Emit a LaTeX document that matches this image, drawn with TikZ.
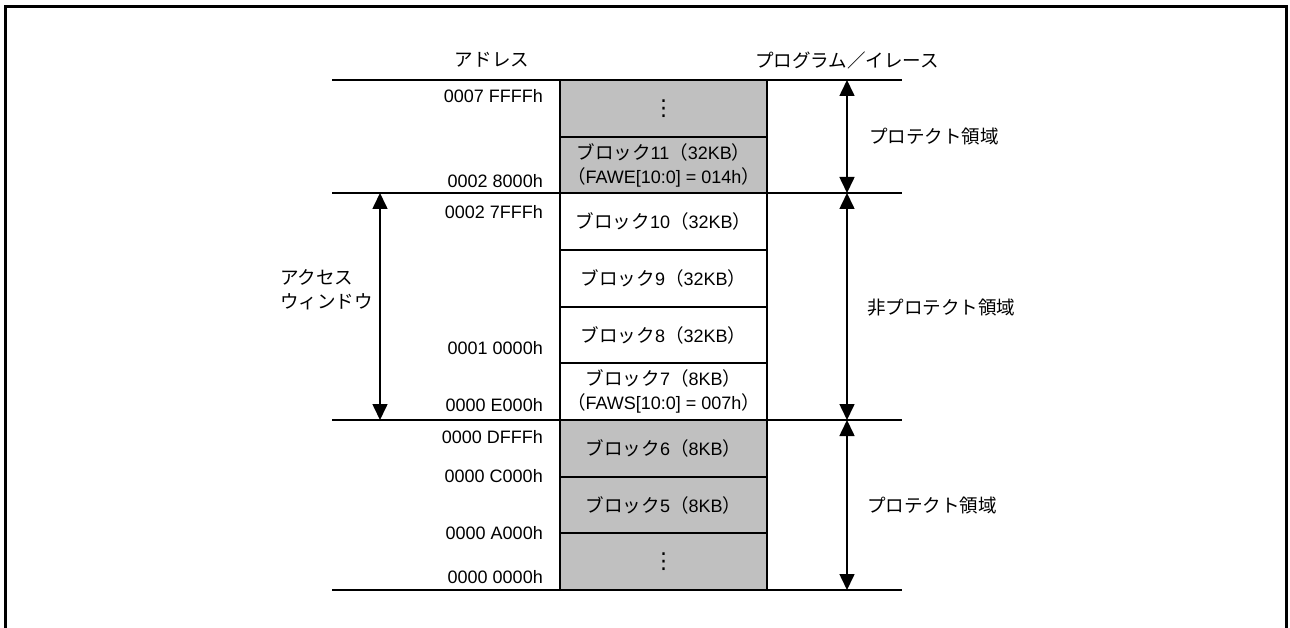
\documentclass[tikz,border=0pt]{standalone}
\usepackage{fontspec}
\setmainfont{Liberation Sans}
\newfontfamily\jp[Scale=1.03]{Noto Sans CJK JP}
\newfontfamily\symfont{DejaVu Sans}
\usetikzlibrary{arrows.meta}
\definecolor{blkgray}{RGB}{192,192,192}
\newcommand\J[1]{{\jp #1}}
\begin{document}
\begin{tikzpicture}[x=1pt,y=-1pt,
  font=\fontsize{18}{24}\selectfont,
  frame/.style={line width=3pt},
  rule/.style={line width=1.6pt},
  blk/.style={draw, line width=1.6pt, minimum width=207pt, inner sep=0pt, align=center},
  prot/.style={blk, fill=blkgray},
  addr/.style={anchor=east, inner sep=0pt},
  side/.style={anchor=west, inner sep=0pt, align=left},
  vdots/.style={font=\symfont\fontsize{22}{22}\selectfont},
  dblarrow/.style={line width=1.6pt, {Triangle[length=16pt,width=15pt]}-{Triangle[length=16pt,width=15pt]}}
]
\useasboundingbox (0,0) rectangle (1290,628);
% outer frame
\draw[frame] (5,628) -- (5,7) -- (1286,7) -- (1286,628);

% headers
\node (haddr) at (492,60) {\J{アドレス}};
\node (hpe) at (847,60) {\J{プログラム／イレース}};

% blocks
\node[prot, vdots, minimum height=57pt] (b12) at (663.5,108.5) {⋮};
\node[prot, minimum height=56pt] (b11) at (663.5,165) {\J{ブロック}11\J{（}32KB\J{）}\\\J{（}FAWE[10:0] = 014h\J{）}};
\node[blk, minimum height=57pt] (b10) at (663.5,221.5) {\J{ブロック}10\J{（}32KB\J{）}};
\node[blk, minimum height=57pt] (b9) at (663.5,278.5) {\J{ブロック}9\J{（}32KB\J{）}};
\node[blk, minimum height=56pt] (b8) at (663.5,335) {\J{ブロック}8\J{（}32KB\J{）}};
\node[blk, minimum height=57pt] (b7) at (663.5,391.5) {\J{ブロック}7\J{（}8KB\J{）}\\\J{（}FAWS[10:0] = 007h\J{）}};
\node[prot, minimum height=57pt] (b6) at (663.5,448.5) {\J{ブロック}6\J{（}8KB\J{）}};
\node[prot, minimum height=56pt] (b5) at (663.5,505) {\J{ブロック}5\J{（}8KB\J{）}};
\node[prot, vdots, minimum height=57pt] (b0) at (663.5,561.5) {⋮};

% horizontal rules
\coordinate (l1) at (332,80);  \coordinate (r1) at (902,80);
\coordinate (l2) at (332,193); \coordinate (r2) at (902,193);
\coordinate (l3) at (332,420); \coordinate (r3) at (902,420);
\coordinate (l4) at (332,590); \coordinate (r4) at (902,590);
\draw[rule] (l1) -- (r1);
\draw[rule] (l2) -- (r2);
\draw[rule] (l3) -- (r3);
\draw[rule] (l4) -- (r4);

% addresses
\node[addr] (a1) at (543,96) {0007 FFFFh};
\node[addr] (a2) at (543,181) {0002 8000h};
\node[addr] (a3) at (543,212) {0002 7FFFh};
\node[addr] (a4) at (543,348) {0001 0000h};
\node[addr] (a5) at (543,405) {0000 E000h};
\node[addr] (a6) at (543,437) {0000 DFFFh};
\node[addr] (a7) at (543,476) {0000 C000h};
\node[addr] (a8) at (543,533) {0000 A000h};
\node[addr] (a9) at (543,577) {0000 0000h};

% arrows
\coordinate (wt) at (380,193); \coordinate (wb) at (380,420);
\draw[dblarrow] (wt) -- (wb);
\coordinate (p1t) at (847,80);  \coordinate (p1b) at (847,193);
\coordinate (p2t) at (847,193); \coordinate (p2b) at (847,420);
\coordinate (p3t) at (847,420); \coordinate (p3b) at (847,590);
\draw[dblarrow] (p1t) -- (p1b);
\draw[dblarrow] (p2t) -- (p2b);
\draw[dblarrow] (p3t) -- (p3b);

% side labels
\node[side] (lw) at (280,290) {\J{アクセス}\\\J{ウィンドウ}};
\node[side] (lp1) at (869,136) {\J{プロテクト領域}};
\node[side] (lnp) at (867,308) {\J{非プロテクト領域}};
\node[side] (lp2) at (867,505) {\J{プロテクト領域}};
\end{tikzpicture}
\end{document}
